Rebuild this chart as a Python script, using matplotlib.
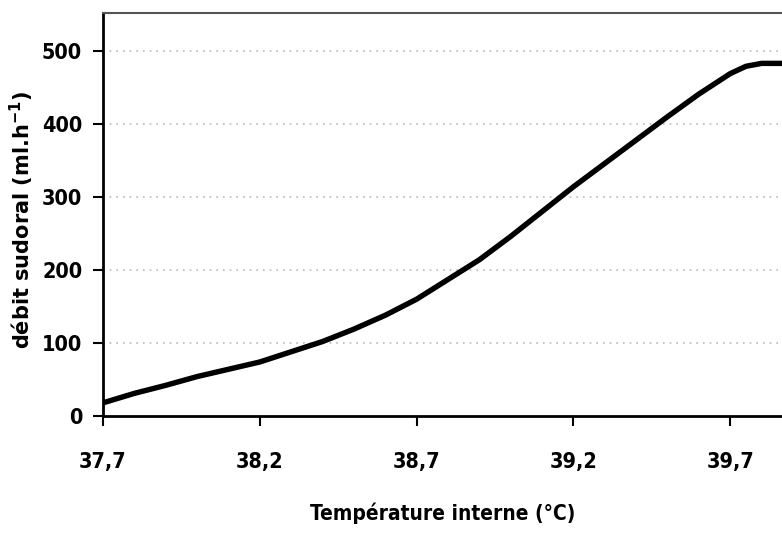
import matplotlib
matplotlib.use("Agg")
import matplotlib.pyplot as plt

temps = [37.7, 37.8, 37.9, 38.0, 38.1, 38.2, 38.3, 38.4, 38.5, 38.6, 38.7, 38.8,
         38.9, 39.0, 39.1, 39.2, 39.3, 39.4, 39.5, 39.6, 39.7, 39.75, 39.8, 39.87]
debit = [18, 31, 42, 54, 64, 74, 88, 102, 119, 138, 160, 187,
         214, 246, 280, 314, 346, 378, 410, 441, 469, 479, 483, 483]

x_ticks = [37.7, 38.2, 38.7, 39.2, 39.7]
x_tick_labels = ["37,7", "38,2", "38,7", "39,2", "39,7"]
y_ticks = [0, 100, 200, 300, 400, 500]
y_tick_labels = ["0", "100", "200", "300", "400", "500"]

plt.rcParams["font.family"] = ["DejaVu Sans"]
plt.rcParams["font.weight"] = "bold"

fig = plt.figure(figsize=(7.82, 5.33), dpi=100)
ax = fig.add_axes([0.1317, 0.2195, 0.8683, 0.7561])

ax.plot(temps, debit, color="black", lw=3.9, solid_capstyle="butt",
        solid_joinstyle="round", zorder=3)

ax.set_xlim(37.7, 39.865)
ax.set_ylim(0, 552)
ax.set_xticks(x_ticks)
ax.set_xticklabels(x_tick_labels)
ax.set_yticks(y_ticks)
ax.set_yticklabels(y_tick_labels)

for y in y_ticks[1:]:
    ax.axhline(y, color="#b8b8b8", lw=1.2, ls=(0, (1, 3)), zorder=1)

ax.spines["right"].set_visible(False)
ax.spines["top"].set_color("#555555")
ax.spines["top"].set_linewidth(1.5)
for s in ["left", "bottom"]:
    ax.spines[s].set_linewidth(2)
    ax.spines[s].set_color("black")

ax.tick_params(axis="x", direction="out", length=7, width=1.5, pad=19, labelsize=15.5)
ax.tick_params(axis="y", direction="out", length=7, width=1.5, pad=8, labelsize=15.5)
for lab in ax.get_xticklabels() + ax.get_yticklabels():
    lab.set_fontweight("bold")
    lab.set_fontstretch("condensed")

ax.set_xlabel("Température interne (°C)", fontsize=15, fontweight="bold",
              fontstretch="condensed", labelpad=22)
ax.set_ylabel("débit sudoral (ml.h$^{\\mathbf{-1}}$)", fontsize=15, fontweight="bold")
ax.yaxis.set_label_coords(-0.099, 0.486)

fig.savefig("out.png", dpi=100)
